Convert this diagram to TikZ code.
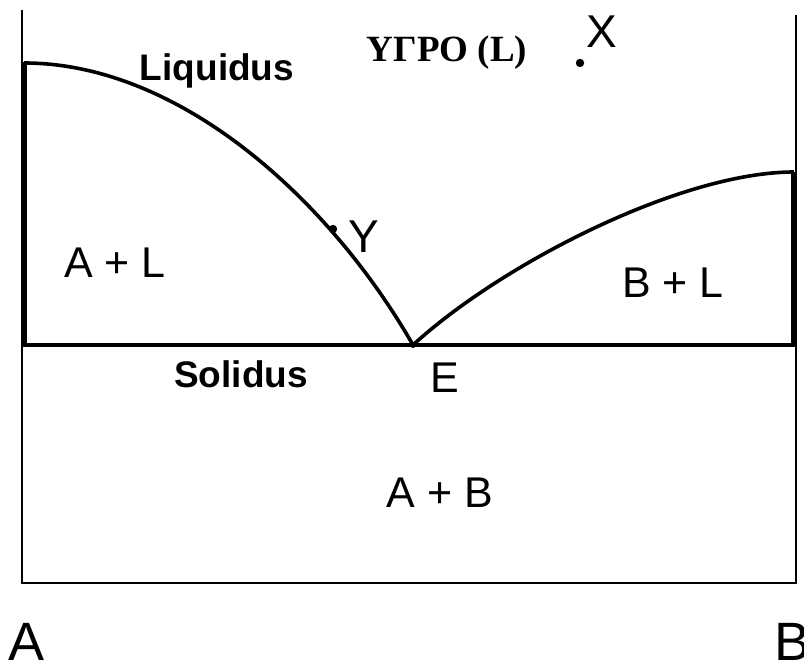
\documentclass[tikz,border=0pt]{standalone}
\usepackage{fontspec}
\setmainfont{Liberation Serif}
\setsansfont{Liberation Sans}
\usetikzlibrary{positioning}

\begin{document}
\begin{tikzpicture}[
    x=0.5pt, y=-0.5pt,
    frame/.style={line width=1.25pt},
    phase/.style={line width=2.8pt},
    curve/.style={line width=1.8pt, line join=round},
    region/.style={font=\sffamily\fontsize{21.5}{24}\selectfont, inner sep=0pt, anchor=base},
    boundary/.style={font=\sffamily\bfseries\fontsize{18.5}{22}\selectfont, inner sep=0pt, anchor=base},
    pointlabel/.style={font=\sffamily\fontsize{23}{26}\selectfont, inner sep=0pt, anchor=base},
    axislabel/.style={font=\sffamily\fontsize{27}{30}\selectfont, inner sep=0pt, anchor=base},
    dot/.style={circle, fill, inner sep=0pt, minimum size=4.2pt},
]
\useasboundingbox (0,0) rectangle (804,667);

% corners of the diagram
\coordinate (topA) at (22,10);
\coordinate (topB) at (796,15);
\coordinate (botA) at (22,583);
\coordinate (botB) at (796,583);
\coordinate (meltA) at (24,62);
\coordinate (meltB) at (794,172);
\coordinate (solA) at (22,345);
\coordinate (solB) at (796,345);
\coordinate (eut) at (413,345);

% frame
\draw[frame] (topA) -- (botA) -- (botB) -- (topB);
\draw[phase] (meltA) -- (24,345);
\draw[phase] (meltB) -- (794,345);
\draw[phase, line width=2pt] (solA) -- (solB);

% liquidus curves
\draw[curve] (24,63) .. controls (180,63) and (330,200) .. (eut);
\draw[curve] (eut) .. controls (500,265) and (680,172) .. (meltB);

% points
\node[dot] (ptY) at (333,229) {};
\node[dot] (ptX) at (580,63) {};
\node[dot, minimum size=3pt] (ptE) at (eut) {};

% labels
\node[boundary] (liq) at (217,81) {Liquidus};
\node[boundary] (sol) at (241,388) {Solidus};
\node[font=\bfseries\fontsize{18.5}{22}\selectfont, inner sep=0pt, anchor=base] (liquid) at (447,62) {ΥΓΡΟ (L)};
\node[pointlabel] (labX) at (602,48) {X};
\node[pointlabel] (labY) at (364,253) {Y};
\node[region] (labE) at (445,393) {E};
\node[region] (AL) at (115,278) {A + L};
\node[region] (BL) at (673,298) {B + L};
\node[region] (AB) at (440,508) {A + B};
\node[axislabel] (labA) at (27,661) {A};
\node[axislabel, anchor=base west] (labB) at (774,661) {B};

\end{tikzpicture}
\end{document}
